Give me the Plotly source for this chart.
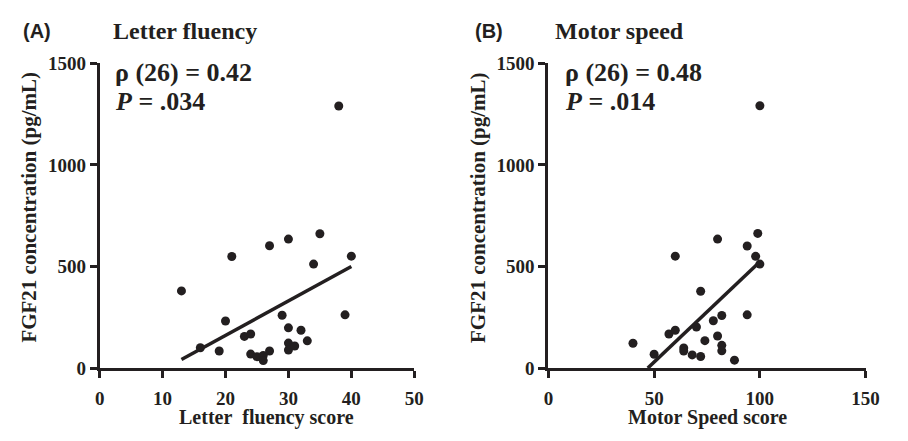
import plotly.graph_objects as go

# Panel A: Letter fluency
fluency_score = [13, 16, 19, 20, 21, 23, 24, 24, 25, 26, 26, 27, 27, 29, 30, 30, 30, 30,
                 31, 32, 33, 34, 35, 39, 40, 38]
fluency_fgf21 = [380, 100, 84, 232, 549, 156, 168, 69, 56, 62, 37, 84, 602, 260, 635, 198,
                 123, 89, 109, 186, 134, 512, 661, 262, 551, 1290]
fluency_fit_x = [13, 40]
fluency_fit_y = [42, 500]

# Panel B: Motor speed
motor_score = [40, 50, 57, 60, 64, 64, 68, 70, 72, 72, 74, 78, 80, 82, 82, 82, 88, 94,
               100, 98, 60, 80, 94, 99, 100]
motor_fgf21 = [122, 68, 168, 186, 99, 84, 65, 202, 378, 57, 135, 233, 158, 259, 112, 85,
               39, 262, 512, 550, 551, 635, 601, 663, 1291]
motor_fit_x = [47, 100]
motor_fit_y = [0, 523]

y_ticks = [0, 500, 1000, 1500]
xa_ticks = [0, 10, 20, 30, 40, 50]
xb_ticks = [0, 50, 100, 150]

INK = "#231f20"
SERIF = "Liberation Serif"
W, H = 908, 441

fig = go.Figure()

fig.add_trace(go.Scatter(x=fluency_score, y=fluency_fgf21, mode="markers",
                         marker=dict(size=9, color=INK), xaxis="x", yaxis="y",
                         showlegend=False))
fig.add_trace(go.Scatter(x=fluency_fit_x, y=fluency_fit_y, mode="lines",
                         line=dict(color=INK, width=3.5), xaxis="x", yaxis="y",
                         showlegend=False))
fig.add_trace(go.Scatter(x=motor_score, y=motor_fgf21, mode="markers",
                         marker=dict(size=9, color=INK), xaxis="x2", yaxis="y2",
                         showlegend=False))
fig.add_trace(go.Scatter(x=motor_fit_x, y=motor_fit_y, mode="lines",
                         line=dict(color=INK, width=3.5), xaxis="x2", yaxis="y2",
                         showlegend=False))

axis_common = dict(showline=True, linewidth=3, linecolor=INK, ticks="outside",
                   ticklen=7, tickwidth=3, tickcolor=INK, showgrid=False,
                   zeroline=False, tickfont=dict(family=SERIF, size=19, color=INK,
                                                 weight="bold"))

ydom = [1 - 376 / H, 1 - 56 / H]
fig.update_layout(
    width=W, height=H, margin=dict(l=0, r=0, t=0, b=0),
    paper_bgcolor="white", plot_bgcolor="white",
    xaxis=dict(domain=[96.7 / W, 418 / W], range=[0, 50], tickvals=xa_ticks,
               anchor="y", ticklabelstandoff=4, **axis_common),
    yaxis=dict(domain=ydom, range=[0, 1500], tickvals=y_ticks, anchor="x",
               **axis_common),
    xaxis2=dict(domain=[555 / W, 879 / W], range=[0, 150], tickvals=xb_ticks,
                anchor="y2", ticklabelstandoff=4, **axis_common),
    yaxis2=dict(domain=ydom, range=[0, 1500], tickvals=y_ticks, anchor="x2",
                **axis_common),
)

def ann(text, px, py, size, family=SERIF, xanchor="left", angle=0):
    fig.add_annotation(text=text, x=px / W, y=1 - py / H, xref="paper", yref="paper",
                       xanchor=xanchor, yanchor="middle", showarrow=False,
                       textangle=angle,
                       font=dict(family=family, size=size, color=INK, weight="bold"))

ann("(A)", 16, 22, 20, family="Liberation Sans")
ann("Letter fluency", 108, 22, 24)
ann("(B)", 478, 22, 20, family="Liberation Sans")
ann("Motor speed", 560, 22, 24)

ann("ρ (26) = 0.42", 110, 66, 26)
ann("<i>P</i> = .034", 110, 96, 26)
ann("ρ (26) = 0.48", 570, 66, 26)
ann("<i>P</i> = .014", 570, 96, 26)

ann("Letter\u00a0 fluency score", 267, 428, 20, xanchor="center")
ann("Motor Speed score", 718, 428, 20, xanchor="center")
ann("FGF21 concentration (pg/mL)", 25, 207, 21, xanchor="center", angle=-90)
ann("FGF21 concentration (pg/mL)", 483, 207, 21, xanchor="center", angle=-90)

fig.write_html("out.html")
